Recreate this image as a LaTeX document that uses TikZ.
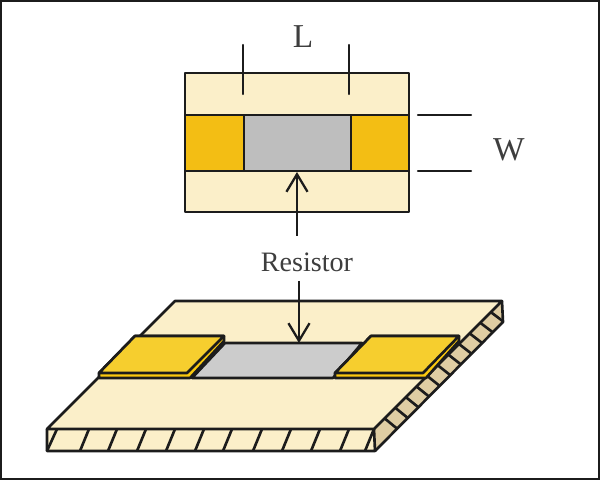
\documentclass[tikz,border=0pt]{standalone}
\usepackage{fontspec}
\setmainfont{Liberation Serif}
\usetikzlibrary{calc,arrows.meta}
\definecolor{board}{HTML}{FBEFC9}
\definecolor{boardside}{HTML}{DFCDA3}
\definecolor{padtop}{HTML}{F3BE14}
\definecolor{padflat}{HTML}{F6CE2E}
\definecolor{padedge}{HTML}{FBC90F}
\definecolor{restop}{HTML}{BEBEBE}
\definecolor{resflat}{HTML}{CCCCCC}
\definecolor{ink}{HTML}{1C1C1C}
\tikzset{
    edge/.style={draw=ink, line width=1.5pt, line join=round},
    thinedge/.style={draw=ink, line width=1.2pt, line cap=round},
    label/.style={inner sep=0pt, text=ink!85, font=\fontsize{16}{16}\selectfont},
    biglabel/.style={inner sep=0pt, text=ink!85, font=\fontsize{19}{19}\selectfont},
    arrowline/.style={draw=ink, line width=1.2pt, -{Straight Barb[length=10pt, width=12pt, line width=1.3pt]}}
}
\begin{document}
\begin{tikzpicture}[x=0.02cm, y=-0.02cm]
        \useasboundingbox (0,0) rectangle (600,480);
        \draw[ink, line width=2pt] (0,0) rectangle (600,480);

        % top view
        \draw[edge, fill=board] (185,73) rectangle (409,212);
        \draw[edge, fill=padtop] (185,115) rectangle (244,171);
        \draw[edge, fill=restop] (244,115) rectangle (351,171);
        \draw[edge, fill=padtop] (351,115) rectangle (409,171);

        \coordinate (Lleft top) at (243,45);
        \coordinate (Lleft bottom) at (243,94);
        \coordinate (Lright top) at (349,45);
        \coordinate (Lright bottom) at (349,94);
        \coordinate (Wtop left) at (418,115);
        \coordinate (Wtop right) at (471,115);
        \coordinate (Wbottom left) at (418,171);
        \coordinate (Wbottom right) at (471,171);
        \draw[thinedge] (Lleft top) -- (Lleft bottom);
        \draw[thinedge] (Lright top) -- (Lright bottom);
        \draw[thinedge] (Wtop left) -- (Wtop right);
        \draw[thinedge] (Wbottom left) -- (Wbottom right);

        \node[biglabel] (L) at (303,37) {L};
        \node[biglabel] (W) at (509,150) {W};
        \node[label] (resistor) at (307,262) {Resistor};

        % board
        \fill[board] (175,301) -- (502,301) -- (374,429) -- (47,429) -- cycle;
        \fill[board] (47,429) rectangle (374,451);
        \fill[boardside] (374,429) -- (502,301) -- (503,322) -- (375,451) -- cycle;

        % hatching on the side faces
        \foreach \x in {80,108,137,166,195,223,253,282,311,340}
            \draw[edge] (\x,451) -- ++(9,-22);
        \draw[edge] (47,451) -- (57,429);
        \draw[edge] (365,451) -- (374,429);
        \foreach \t in {0.083,0.166,...,0.92}
            \draw[edge] ($(374,429)!\t!(502,301)$) -- ($(375,451)!\t+0.09!(503,322)$);

        \draw[edge] (47,429) -- (175,301) -- (502,301) -- (374,429) -- cycle;
        \draw[edge] (47,429) -- (47,451) -- (375,451) -- (374,429);
        \draw[edge] (375,451) -- (503,322) -- (502,301);

        % resistor and pads
        \draw[edge, fill=resflat] (192,378) -- (225,343) -- (362,343) -- (333,378) -- cycle;

        \draw[edge, fill=padedge] (99,373) -- (135,336) -- (224,336) -- (224,341) -- (190,378) -- (99,378) -- cycle;
        \draw[edge, fill=padflat] (99,373) -- (135,336) -- (224,336) -- (187,373) -- cycle;

        \draw[edge, fill=padedge] (335,373) -- (371,336) -- (459,336) -- (459,341) -- (426,378) -- (335,378) -- cycle;
        \draw[edge, fill=padflat] (335,373) -- (371,336) -- (459,336) -- (423,373) -- cycle;

        % arrows from the label
        \coordinate (top arrow) at (297,172);
        \coordinate (bottom arrow) at (299,343);
        \draw[arrowline] (297,236) -- (top arrow);
        \draw[arrowline] (299,281) -- (bottom arrow);
    \end{tikzpicture}
\end{document}
